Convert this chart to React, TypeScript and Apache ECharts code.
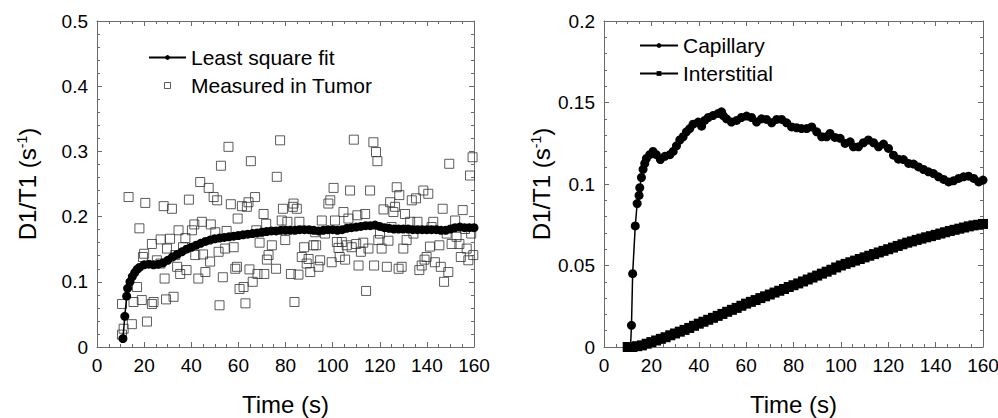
import React, { useEffect, useRef } from "react";
import * as echarts from "echarts";

// ---- Left panel: measured tumor data (open squares)
const tumorTime = [10.6, 11.3, 10.6, 13.4, 14.8, 15.5, 17, 18, 19, 20.5, 19.5, 20, 21.2, 23.3, 23.3, 24, 25.4, 26.9, 27, 28.3, 28.7, 29.3, 29.7, 31, 31.8, 32.5, 33.2, 34, 34.6, 35.3, 36.5, 37.5, 38, 39, 40.3, 41.3, 41.7, 43, 43.8, 44.5, 45, 46, 47.4, 48, 48.3, 49.5, 50.2, 51, 51.6, 52, 52.6, 53.4, 54.4, 55, 55.8, 56.8, 58, 58.7, 59.4, 59.7, 60.5, 61.5, 62.2, 63, 63.6, 64.3, 64.7, 65.3, 66.1, 67.1, 67.6, 68.1, 69, 70.7, 71, 71.8, 72.1, 72.8, 74.2, 76, 76.3, 77.7, 78.4, 78.9, 79.9, 80.8, 82.3, 83.1, 83.4, 83.8, 84.8, 85.5, 85.9, 86.9, 87.9, 89, 89.8, 90.5, 91.9, 92.6, 93, 94, 94.7, 95.4, 96.8, 98.2, 99, 99.6, 100.4, 101, 101.8, 102.5, 103, 103.9, 104.6, 105.3, 106, 106.7, 107.4, 108.1, 109, 110, 110.5, 111, 112, 113, 113.8, 114.2, 115.2, 115.9, 117.3, 117.6, 118.4, 119, 119.4, 120.1, 120.8, 121.6, 123, 123.7, 124.4, 125, 125.8, 126.5, 127.2, 128, 128.3, 129.3, 130, 130.7, 131.4, 132.9, 133.6, 134.3, 135.4, 136, 136.8, 137.8, 138.5, 139, 139.9, 140.6, 141.3, 142, 142.7, 143.4, 145.3, 145.9, 146.7, 147.3, 148.4, 149.1, 149.5, 150.5, 152, 152.6, 153.8, 154.4, 155.2, 156.2, 156.9, 157.6, 158.3, 159.4, 159.7, 158.8];
const tumorValue = [0.019, 0.028, 0.066, 0.23, 0.035, 0.069, 0.092, 0.182, 0.072, 0.221, 0.138, 0.143, 0.039, 0.066, 0.158, 0.069, 0.133, 0.128, 0.165, 0.216, 0.105, 0.073, 0.151, 0.166, 0.212, 0.077, 0.141, 0.123, 0.179, 0.112, 0.153, 0.167, 0.118, 0.226, 0.179, 0.188, 0.141, 0.105, 0.253, 0.192, 0.142, 0.115, 0.244, 0.131, 0.188, 0.23, 0.176, 0.225, 0.146, 0.064, 0.278, 0.107, 0.151, 0.178, 0.307, 0.219, 0.153, 0.12, 0.123, 0.197, 0.089, 0.216, 0.092, 0.067, 0.215, 0.222, 0.119, 0.285, 0.1, 0.23, 0.179, 0.112, 0.16, 0.204, 0.112, 0.189, 0.134, 0.141, 0.156, 0.12, 0.261, 0.317, 0.194, 0.212, 0.164, 0.192, 0.112, 0.215, 0.22, 0.069, 0.212, 0.111, 0.192, 0.138, 0.153, 0.128, 0.135, 0.115, 0.156, 0.176, 0.156, 0.123, 0.133, 0.194, 0.174, 0.22, 0.225, 0.13, 0.244, 0.194, 0.161, 0.152, 0.138, 0.161, 0.207, 0.134, 0.156, 0.197, 0.24, 0.153, 0.318, 0.158, 0.202, 0.125, 0.146, 0.16, 0.204, 0.086, 0.151, 0.24, 0.314, 0.125, 0.299, 0.285, 0.164, 0.174, 0.151, 0.211, 0.123, 0.163, 0.222, 0.184, 0.207, 0.215, 0.245, 0.12, 0.233, 0.123, 0.151, 0.204, 0.164, 0.192, 0.225, 0.174, 0.228, 0.192, 0.118, 0.125, 0.24, 0.134, 0.138, 0.235, 0.154, 0.184, 0.192, 0.13, 0.156, 0.123, 0.212, 0.1, 0.174, 0.115, 0.281, 0.158, 0.194, 0.169, 0.158, 0.138, 0.21, 0.181, 0.151, 0.133, 0.263, 0.291, 0.141, 0.174];

// ---- Left panel: least square fit (filled circles)
const fitTime = [11, 11.8, 12.6, 13, 14, 15, 16, 17, 18, 20, 22, 24, 26, 28, 30, 32, 34, 36, 38, 40, 42, 44, 46, 48, 50, 52, 54, 56, 58, 60, 62, 64, 66, 68, 70, 72, 74, 76, 78, 80, 82, 84, 86, 88, 90, 92, 94, 96, 98, 100, 102, 104, 106, 108, 110, 112, 114, 116, 118, 120, 122, 124, 126, 128, 130, 132, 134, 136, 138, 140, 142, 144, 146, 148, 150, 152, 154, 156, 158, 160];
const fitValue = [0.013, 0.047, 0.078, 0.09, 0.1, 0.108, 0.114, 0.119, 0.122, 0.126, 0.127, 0.126, 0.127, 0.129, 0.133, 0.138, 0.142, 0.146, 0.15, 0.153, 0.156, 0.159, 0.162, 0.164, 0.166, 0.167, 0.168, 0.169, 0.17, 0.171, 0.172, 0.173, 0.174, 0.175, 0.176, 0.177, 0.178, 0.178, 0.179, 0.179, 0.179, 0.179, 0.18, 0.18, 0.18, 0.179, 0.178, 0.179, 0.18, 0.18, 0.179, 0.18, 0.182, 0.183, 0.184, 0.185, 0.186, 0.186, 0.187, 0.185, 0.183, 0.182, 0.181, 0.181, 0.181, 0.181, 0.18, 0.18, 0.18, 0.18, 0.18, 0.18, 0.179, 0.179, 0.181, 0.183, 0.184, 0.183, 0.183, 0.183];

// ---- Right panel: capillary (filled circles)
const capTime = [10, 11.2, 11.6, 12.1, 13.2, 14, 14.8, 15.1, 15.8, 16.5, 17.2, 17.9, 19.3, 20.7, 22.1, 23.8, 25.7, 27.8, 29.2, 30.6, 32, 33.4, 34.8, 36.2, 37.6, 39.8, 41.2, 42.5, 44, 46, 48.2, 49.6, 50.3, 51.7, 53.8, 56, 58, 60.2, 62.3, 64.4, 66.5, 68.6, 70.8, 72.9, 75, 77.1, 79.2, 81.3, 83.4, 85.6, 87.7, 89.8, 91.9, 94, 95.4, 97.5, 99.7, 101.8, 103.9, 105.3, 107.4, 109.5, 111.6, 113.8, 115.9, 118, 120.1, 122.2, 124.3, 126.4, 128.6, 130.7, 132.8, 134.9, 137, 139.1, 141.2, 143.4, 145.5, 147.6, 149.7, 151.8, 153.9, 156.1, 158.2, 160];
const capValue = [0, 0, 0.0133, 0.045, 0.0743, 0.088, 0.093, 0.0977, 0.104, 0.109, 0.1126, 0.1157, 0.118, 0.12, 0.118, 0.115, 0.117, 0.118, 0.12, 0.1234, 0.127, 0.129, 0.132, 0.134, 0.1367, 0.138, 0.1355, 0.139, 0.1408, 0.142, 0.1433, 0.1443, 0.142, 0.14, 0.138, 0.139, 0.1408, 0.1417, 0.1408, 0.138, 0.14, 0.1396, 0.1375, 0.1396, 0.1396, 0.1375, 0.135, 0.1345, 0.134, 0.134, 0.135, 0.132, 0.129, 0.129, 0.131, 0.1286, 0.128, 0.1249, 0.1259, 0.1228, 0.1228, 0.1253, 0.127, 0.1253, 0.1228, 0.1245, 0.1218, 0.1177, 0.1152, 0.115, 0.1126, 0.1122, 0.1105, 0.1089, 0.1075, 0.1064, 0.1044, 0.1028, 0.1013, 0.102, 0.1034, 0.1044, 0.1048, 0.1034, 0.1013, 0.1024];

// ---- Right panel: interstitial (filled squares)
const intTime = [10, 12, 14, 16, 18, 20, 22, 24, 26, 28, 30, 32, 34, 36, 38, 40, 42, 44, 46, 48, 50, 52, 54, 56, 58, 60, 62, 64, 66, 68, 70, 72, 74, 76, 78, 80, 82, 84, 86, 88, 90, 92, 94, 96, 98, 100, 102, 104, 106, 108, 110, 112, 114, 116, 118, 120, 122, 124, 126, 128, 130, 132, 134, 136, 138, 140, 142, 144, 146, 148, 150, 152, 154, 156, 158, 160];
const intValue = [0, 0, 0.0005, 0.001, 0.002, 0.003, 0.004, 0.005, 0.006, 0.0072, 0.0083, 0.0094, 0.0105, 0.0117, 0.013, 0.0143, 0.0155, 0.0167, 0.0179, 0.0191, 0.0203, 0.0216, 0.0228, 0.024, 0.0253, 0.0266, 0.0277, 0.0288, 0.03, 0.0311, 0.0322, 0.0334, 0.0345, 0.0356, 0.0368, 0.0379, 0.039, 0.0402, 0.0414, 0.0426, 0.0438, 0.045, 0.0462, 0.0474, 0.0488, 0.05, 0.051, 0.052, 0.053, 0.054, 0.055, 0.056, 0.057, 0.058, 0.059, 0.06, 0.061, 0.062, 0.063, 0.064, 0.0648, 0.0657, 0.0665, 0.0673, 0.068, 0.0688, 0.0696, 0.0704, 0.0712, 0.0719, 0.0726, 0.0733, 0.074, 0.0746, 0.075, 0.0755];

const xTicks = { min: 0, max: 160, interval: 20 };
const leftY = { min: 0, max: 0.5, interval: 0.1 };
const rightY = { min: 0, max: 0.2, interval: 0.05 };

const FONT = "'Liberation Sans', Arial, Helvetica, sans-serif";
const FRAME = "#6a6a6a";
const SQUARE = "path://M0,0L10,0L10,10L0,10Z";

const zip = (a: number[], b: number[]) => a.map((v, i) => [v, b[i]]);

function axis(
  gridIndex: number,
  range: { min: number; max: number; interval: number },
  minorSplit: number,
  position: string,
  showLabel: boolean,
  extra: any = {}
) {
  return {
    type: "value",
    gridIndex,
    position,
    min: range.min,
    max: range.max,
    interval: range.interval,
    axisLine: { show: true, onZero: false, lineStyle: { color: FRAME, width: 1 } },
    axisTick: { show: true, inside: true, length: 5, lineStyle: { color: FRAME, width: 1 } },
    minorTick: { show: true, splitNumber: minorSplit, length: 3, lineStyle: { color: FRAME, width: 1 } },
    splitLine: { show: false },
    minorSplitLine: { show: false },
    axisLabel: { show: showLabel, color: "#000", fontSize: 19, fontFamily: FONT, margin: 9 },
    ...extra,
  };
}

const yName = "{a|D1/T1 (s}{s|-1}{a|)}";
const yNameStyle = {
  color: "#000",
  fontFamily: FONT,
  rich: {
    a: { fontSize: 24, fontFamily: FONT, color: "#000" },
    s: { fontSize: 14, fontFamily: FONT, color: "#000", verticalAlign: "top", lineHeight: 14 },
  },
};
const xNameProps = {
  name: "Time (s)",
  nameLocation: "middle",
  nameGap: 45,
  nameTextStyle: { fontSize: 24, fontFamily: FONT, color: "#000" },
};

const legendText = { fontSize: 21, fontFamily: FONT, color: "#000" };

export default function App() {
  const ref = useRef<HTMLDivElement>(null);
  useEffect(() => {
    if (!ref.current) return;
    const chart = echarts.init(ref.current, undefined, { renderer: "svg" });
    chart.setOption({
      animation: false,
      backgroundColor: "#fff",
      grid: [
        { left: 97, top: 21, width: 377, height: 326, containLabel: false, outerBoundsMode: "none" },
        { left: 604, top: 21, width: 379, height: 326, containLabel: false, outerBoundsMode: "none" },
      ],
      xAxis: [
        axis(0, xTicks, 4, "bottom", true, xNameProps),
        axis(0, xTicks, 4, "top", false),
        axis(1, xTicks, 4, "bottom", true, xNameProps),
        axis(1, xTicks, 4, "top", false),
      ],
      yAxis: [
        axis(0, leftY, 5, "left", true, {
          name: yName,
          nameLocation: "middle",
          nameGap: 58,
          nameTextStyle: yNameStyle,
        }),
        axis(0, leftY, 5, "right", false),
        axis(1, rightY, 5, "left", true, {
          name: yName,
          nameLocation: "middle",
          nameGap: 51,
          nameTextStyle: yNameStyle,
        }),
        axis(1, rightY, 5, "right", false),
      ],
      legend: [
        {
          data: [
            "Least square fit",
            {
              name: "Measured in Tumor",
              icon: SQUARE,
              itemStyle: { color: "rgba(255,255,255,0)", borderColor: "#333", borderWidth: 1 },
            },
          ],
          orient: "vertical",
          left: 148,
          top: 47,
          padding: 0,
          itemWidth: 37,
          itemHeight: 6,
          itemGap: 7,
          symbolKeepAspect: true,
          textStyle: legendText,
          selectedMode: false,
        },
        {
          data: ["Capillary", "Interstitial"],
          orient: "vertical",
          left: 639,
          top: 35,
          padding: 0,
          itemWidth: 38,
          itemHeight: 6,
          itemGap: 7,
          textStyle: legendText,
          selectedMode: false,
        },
      ],
      series: [
        {
          name: "Measured in Tumor",
          type: "scatter",
          xAxisIndex: 0,
          yAxisIndex: 0,
          symbol: "rect",
          symbolSize: 9,
          itemStyle: { color: "rgba(255,255,255,0)", borderColor: "#333", borderWidth: 1 },
          data: zip(tumorTime, tumorValue),
        },
        {
          name: "Least square fit",
          type: "line",
          xAxisIndex: 0,
          yAxisIndex: 0,
          symbol: "circle",
          symbolSize: 9,
          showAllSymbol: true,
          lineStyle: { color: "#000", width: 1.5 },
          itemStyle: { color: "#000" },
          data: zip(fitTime, fitValue),
        },
        {
          name: "Capillary",
          type: "line",
          xAxisIndex: 2,
          yAxisIndex: 2,
          symbol: "circle",
          symbolSize: 9,
          showAllSymbol: true,
          lineStyle: { color: "#000", width: 1.5 },
          itemStyle: { color: "#000" },
          data: zip(capTime, capValue),
        },
        {
          name: "Interstitial",
          type: "line",
          xAxisIndex: 2,
          yAxisIndex: 2,
          symbol: "rect",
          symbolSize: 10,
          showAllSymbol: true,
          lineStyle: { color: "#000", width: 1.5 },
          itemStyle: { color: "#000" },
          data: zip(intTime, intValue),
        },
      ],
    });
    return () => chart.dispose();
  }, []);
  return (
    <div
      ref={ref}
      style={{ position: "fixed", left: 0, top: 0, width: 998, height: 418, background: "#fff" }}
    />
  );
}
